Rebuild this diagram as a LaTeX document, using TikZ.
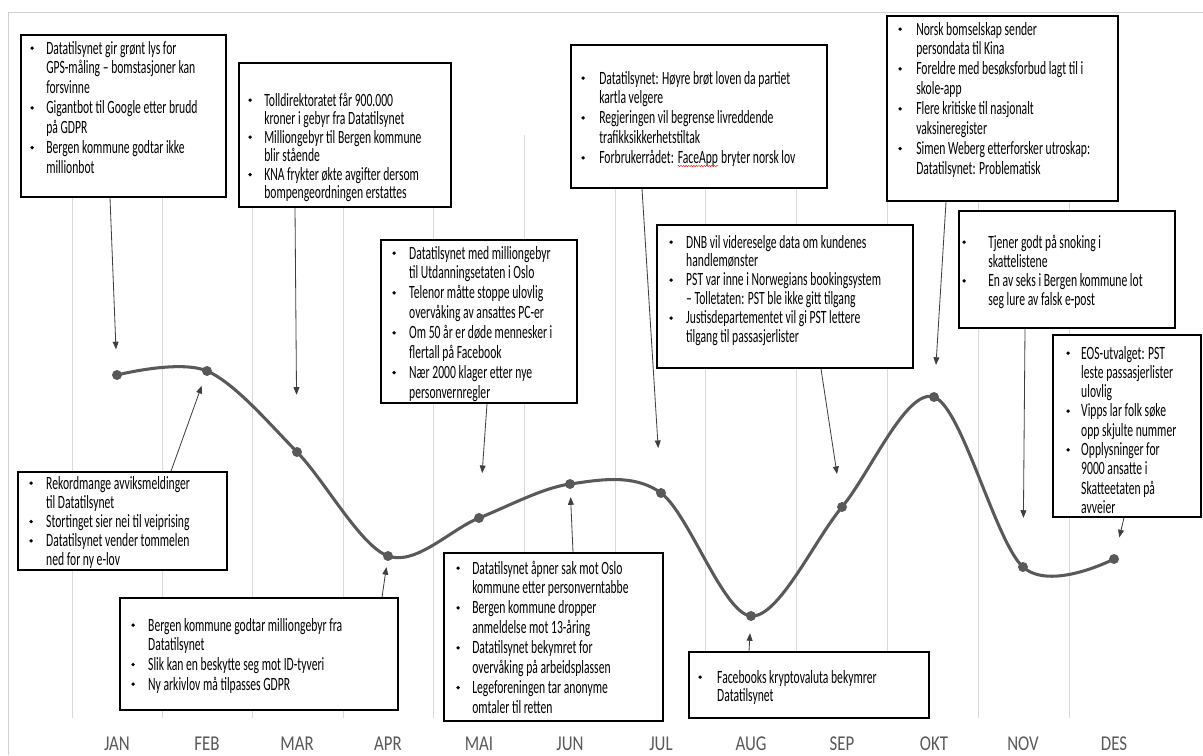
\documentclass[tikz,border=0pt]{standalone}
\usepackage{fontspec}
\usetikzlibrary{arrows.meta,fit,decorations.pathmorphing}
\newfontfamily\boksfont[FakeStretch=0.62]{Carlito}
\newfontfamily\aksefont[FakeStretch=0.8]{Carlito}
\definecolor{kurvegraa}{HTML}{595959}
\definecolor{gittergraa}{HTML}{D9D9D9}
\definecolor{rammegraa}{HTML}{D0D0D0}
\definecolor{pilgraa}{HTML}{3F3F3F}
\newcommand{\pkt}{\tikz[baseline=-5pt]\fill (0,0) circle (1.6pt);}
\newcommand{\liste}[2][13.7pt]{\begin{tabular}[t]{@{}l@{\hspace{\dimexpr#1-3.2pt\relax}}l@{}}#2\end{tabular}}
\newcommand{\stavefeil}[1]{\tikz[baseline=(ord.base)]{\node[inner sep=0pt] (ord) {#1};
  \draw[red, line width=0.4pt, decorate, decoration={snake, amplitude=0.5pt, segment length=2.2pt}]
  ([yshift=-2pt]ord.base west) -- ([yshift=-2pt]ord.base east);}}

\begin{document}
\begin{tikzpicture}[x=0.03cm, y=-0.03cm,
    gitter/.style={gittergraa, line width=0.7pt},
    panel/.style={draw, line width=1.4pt, fill=white, inner sep=0pt},
    tekst/.style={inner sep=0pt, anchor=base west, font=\boksfont\fontsize{16pt}{#1}\selectfont},
    tekst/.default=16.7pt,
    maaned/.style={inner sep=0pt, font=\aksefont\fontsize{18pt}{20pt}\selectfont, text=kurvegraa},
    prikk/.style={circle, fill=kurvegraa, minimum size=8.5pt, inner sep=0pt},
    kurve/.style={kurvegraa, line width=2.6pt},
    pil/.style={pilgraa, line width=0.7pt, -{Triangle[length=6.5pt, width=5pt]}}]
	\useasboundingbox (0,0) rectangle (1203,755);
	\fill[white] (0,0) rectangle (1203,755);
	\draw[rammegraa, line width=0.8pt] (8,755) -- (8,12) -- (1203,12);
	% rutenett
	\draw[gitter] (72,135) -- (72,718);
	\draw[gitter] (162,135) -- (162,718);
	\draw[gitter] (252,135) -- (252,718);
	\draw[gitter] (343,135) -- (343,718);
	\draw[gitter] (433,135) -- (433,718);
	\draw[gitter] (524,135) -- (524,718);
	\draw[gitter] (615,135) -- (615,718);
	\draw[gitter] (705,135) -- (705,718);
	\draw[gitter] (796,135) -- (796,718);
	\draw[gitter] (887,135) -- (887,718);
	\draw[gitter] (978,135) -- (978,718);
	\draw[gitter] (1069,135) -- (1069,718);
	% maaneder
	\node[maaned] (l-jan) at (117,744) {JAN};
	\node[maaned] (l-feb) at (207,744) {FEB};
	\node[maaned] (l-mar) at (297,744) {MAR};
	\node[maaned] (l-apr) at (388,744) {APR};
	\node[maaned] (l-mai) at (479,744) {MAI};
	\node[maaned] (l-jun) at (570,744) {JUN};
	\node[maaned] (l-jul) at (661,744) {JUL};
	\node[maaned] (l-aug) at (751,744) {AUG};
	\node[maaned] (l-sep) at (842,744) {SEP};
	\node[maaned] (l-okt) at (934,744) {OKT};
	\node[maaned] (l-nov) at (1023,744) {NOV};
	\node[maaned] (l-des) at (1114,744) {DES};
	% datapunkter og kurve
	\node[prikk] (jan) at (117,375) {};
	\node[prikk] (feb) at (207,371) {};
	\node[prikk] (mar) at (297,452) {};
	\node[prikk] (apr) at (388,556) {};
	\node[prikk] (mai) at (479,518) {};
	\node[prikk] (jun) at (570,484) {};
	\node[prikk] (jul) at (661,493) {};
	\node[prikk] (aug) at (751,616) {};
	\node[prikk] (sep) at (842,507) {};
	\node[prikk] (okt) at (934,397) {};
	\node[prikk] (nov) at (1023,567) {};
	\node[prikk] (des) at (1114,559) {};
	\draw[kurve] plot[smooth, tension=0.55] coordinates {(jan.center) (feb.center) (mar.center) (apr.center)
	  (mai.center) (jun.center) (jul.center) (aug.center) (sep.center) (okt.center) (nov.center) (des.center)};
	% bokser over kurven
	\node[panel, fit={(21,35) (226,197)}] (b-jan) {};
	\node[tekst=17pt] (t-jan) at (30,54) {\liste{%
	  \pkt & Datatilsynet gir grønt lys for\\ & GPS-måling – bomstasjoner kan\\ & forsvinne\\
	  \pkt & Gigantbot til Google etter brudd\\ & på GDPR\\
	  \pkt & Bergen kommune godtar ikke\\ & millionbot}};
	\node[panel, fit={(239,63) (451,207)}] (b-mar) {};
	\node[tekst=15.7pt] (t-mar) at (248,106) {\liste{%
	  \pkt & Tolldirektoratet får 900.000\\ & kroner i gebyr fra Datatilsynet\\
	  \pkt & Milliongebyr til Bergen kommune\\ & blir stående\\
	  \pkt & KNA frykter økte avgifter dersom\\ & bompengeordningen erstattes}};
	\node[panel, fit={(571,45) (827,188)}] (b-jul) {};
	\node[tekst=17pt] (t-jul) at (581,84) {\liste[15.4pt]{%
	  \pkt & Datatilsynet: Høyre brøt loven da partiet\\ & kartla velgere\\
	  \pkt & Regjeringen vil begrense livreddende\\ & trafikksikkerhetstiltak\\
	  \pkt & Forbrukerrådet: \stavefeil{FaceApp} bryter norsk lov}};
	\node[panel, fit={(887,16) (1118,201)}] (b-okt) {};
	\node[tekst=17pt] (t-okt) at (898,35) {\liste[15.4pt]{%
	  \pkt & Norsk bomselskap sender\\ & persondata til Kina\\
	  \pkt & Foreldre med besøksforbud lagt til i\\ & skole-app\\
	  \pkt & Flere kritiske til nasjonalt\\ & vaksineregister\\
	  \pkt & Simen Weberg etterforsker utroskap:\\ & Datatilsynet: Problematisk}};
	\node[panel, fit={(959,211) (1175,328)}] (b-nov) {};
	\node[tekst=16.5pt] (t-nov) at (962,248) {\liste[22.2pt]{%
	  \pkt & Tjener godt på snoking i\\ & skattelistene\\
	  \pkt & En av seks i Bergen kommune lot\\ & seg lure av falsk e-post}};
	\node[panel, fit={(1053,335) (1201,517)}] (b-des) {};
	\node[tekst=16.5pt] (t-des) at (1066,359) {\liste[12.8pt]{%
	  \pkt & EOS-utvalget: PST\\ & leste passasjerlister\\ & ulovlig\\
	  \pkt & Vipps lar folk søke\\ & opp skjulte nummer\\
	  \pkt & Opplysninger for\\ & 9000 ansatte i\\ & Skatteetaten på\\ & avveier}};
	\node[panel, fit={(381,240) (577,403)}] (b-mai) {};
	\node[tekst=17pt] (t-mai) at (392,259) {\liste[14.5pt]{%
	  \pkt & Datatilsynet med milliongebyr\\ & til Utdanningsetaten i Oslo\\
	  \pkt & Telenor måtte stoppe ulovlig\\ & overvåking av ansattes PC-er\\
	  \pkt & Om 50 år er døde mennesker i\\ & flertall på Facebook\\
	  \pkt & Nær 2000 klager etter nye\\ & personvernregler}};
	\node[panel, fit={(657,225) (913,368)}] (b-sep) {};
	\node[tekst=16.2pt] (t-sep) at (669,248) {\liste[14.5pt]{%
	  \pkt & DNB vil videreselge data om kundenes\\ & handlemønster\\
	  \pkt & PST var inne i Norwegians bookingsystem\\ & – Tolletaten: PST ble ikke gitt tilgang\\
	  \pkt & Justisdepartementet vil gi PST lettere\\ & tilgang til passasjerlister}};
	% bokser under kurven
	\node[panel, fit={(18,472) (227,570)}] (b-feb) {};
	\node[tekst=16.4pt] (t-feb) at (29,489) {\liste[14.5pt]{%
	  \pkt & Rekordmange avviksmeldinger\\ & til Datatilsynet\\
	  \pkt & Stortinget sier nei til veiprising\\
	  \pkt & Datatilsynet vender tommelen\\ & ned for ny e-lov}};
	\node[panel, fit={(120,598) (398,710)}] (b-apr) {};
	\node[tekst=16.8pt] (t-apr) at (131,631) {\liste[14.5pt]{%
	  \pkt & Bergen kommune godtar milliongebyr fra\\ & Datatilsynet\\
	  \pkt & Slik kan en beskytte seg mot ID-tyveri\\
	  \pkt & Ny arkivlov må tilpasses GDPR}};
	\node[panel, fit={(444,553) (663,721)}] (b-jun) {};
	\node[tekst=17pt] (t-jun) at (456,574) {\liste{%
	  \pkt & Datatilsynet åpner sak mot Oslo\\ & kommune etter personverntabbe\\
	  \pkt & Bergen kommune dropper\\ & anmeldelse mot 13-åring\\
	  \pkt & Datatilsynet bekymret for\\ & overvåking på arbeidsplassen\\
	  \pkt & Legeforeningen tar anonyme\\ & omtaler til retten}};
	\node[panel, fit={(689,652) (929,718)}] (b-aug) {};
	\node[tekst=16.2pt] (t-aug) at (698,683) {\liste[16.2pt]{%
	  \pkt & Facebooks kryptovaluta bekymrer\\ & Datatilsynet}};
	% piler
	\draw[pil, shorten >=17.5pt] (b-jan.south -| 110,0) -- (jan);
	\draw[pil, shorten >=9pt] (b-feb.north -| 171,0) -- (feb);
	\draw[pil, shorten >=44.4pt] (b-mar.south -| 295,0) -- (mar);
	\draw[pil, shorten >=5.1pt] (b-apr.north -| 382,0) -- (apr);
	\draw[pil, shorten >=34pt] (b-mai.south -| 487,0) -- (mai);
	\draw[pil, shorten >=6.8pt] (b-jun.north -| 573,0) -- (jun);
	\draw[pil, shorten >=34pt] (b-jul.south -| 642,0) -- (jul);
	\draw[pil, shorten >=10.2pt] (b-aug.north -| 749,0) -- (aug);
	\draw[pil, shorten >=24pt] (b-sep.south -| 821,0) -- (sep);
	\draw[pil, shorten >=23pt] (b-okt.south -| 946,0) -- (okt);
	\draw[pil, shorten >=37.5pt] (b-nov.south -| 1025,0) -- (nov);
	\draw[pil, shorten >=14.5pt] (b-des.south -| 1124,0) -- (des);
\end{tikzpicture}
\end{document}
